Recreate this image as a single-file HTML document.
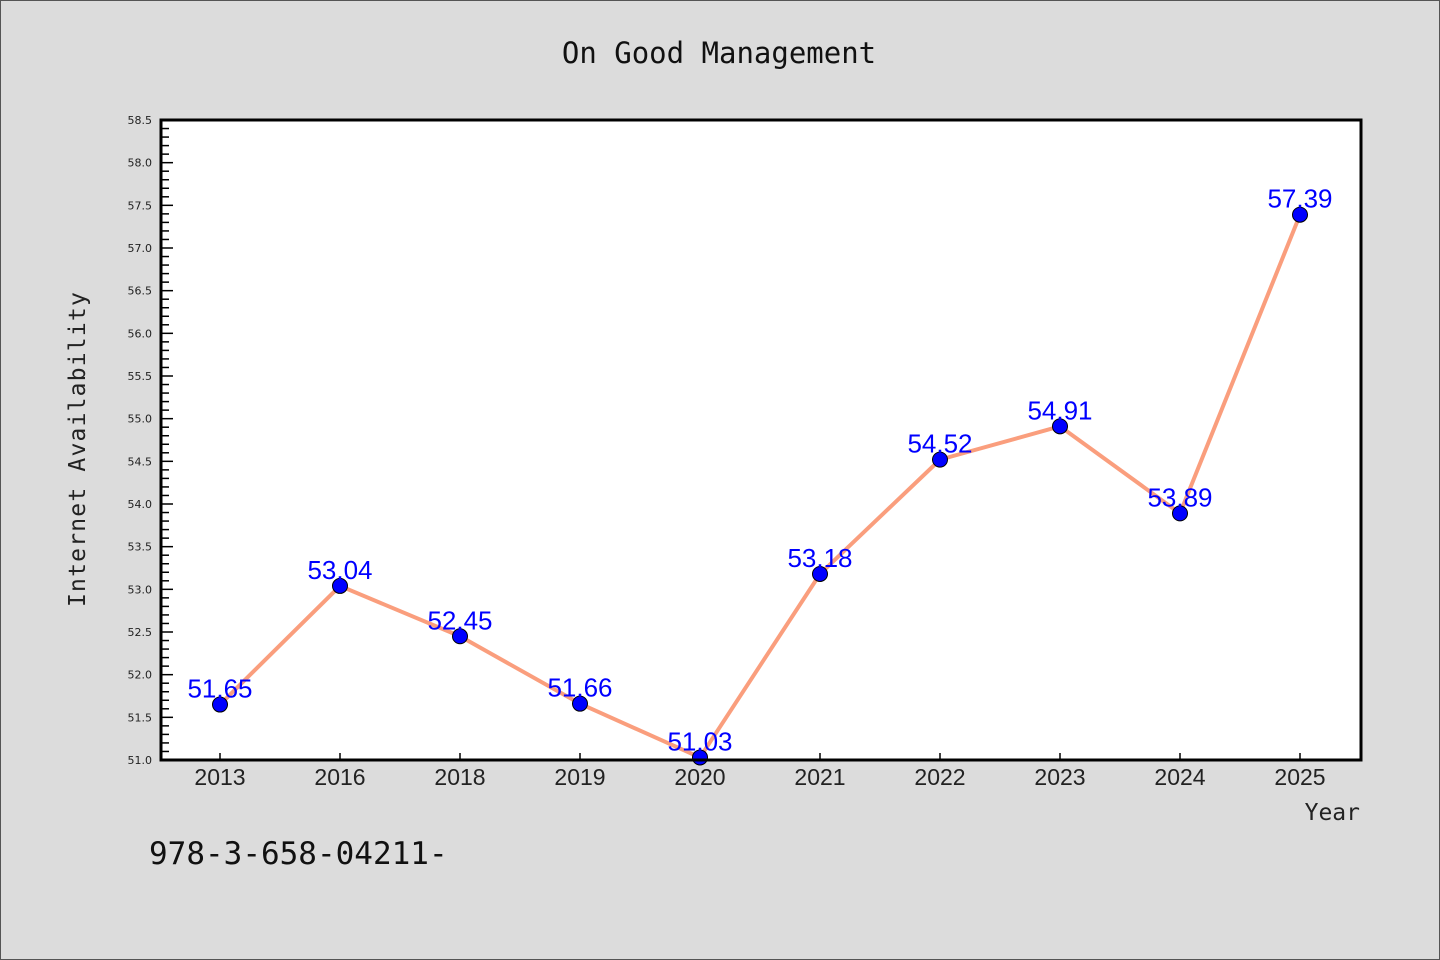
<!DOCTYPE html>
<html><head><meta charset="utf-8">
<style>
html,body{margin:0;padding:0;background:#dcdcdc;}
body{width:1440px;height:960px;overflow:hidden;}
svg{display:block;}
</style></head>
<body>
<svg id="chart" width="1440" height="960" xmlns="http://www.w3.org/2000/svg">
<rect x="0.5" y="0.5" width="1439" height="959" fill="#dcdcdc" stroke="#555" stroke-width="1"/>
<text x="719" y="63" text-anchor="middle" font-family="'DejaVu Sans Mono','Liberation Mono',monospace" font-size="29" fill="#111">On Good Management</text>
<rect x="161" y="120" width="1200" height="640" fill="#fff"/>
<g id="yticks"></g>
<g id="xticks"></g>
<g id="series"></g>
<rect x="161" y="120" width="1200" height="640" fill="none" stroke="#000" stroke-width="3"/>
<text transform="translate(85,449) rotate(-90)" text-anchor="middle" font-family="'DejaVu Sans Mono','Liberation Mono',monospace" font-size="23" letter-spacing="1.2" fill="#222">Internet Availability</text>
<text x="1360" y="820" text-anchor="end" font-family="'DejaVu Sans Mono','Liberation Mono',monospace" font-size="23" fill="#222">Year</text>
<text x="149" y="864" font-family="'DejaVu Sans Mono','Liberation Mono',monospace" font-size="31" fill="#111">978-3-658-04211-</text>
</svg>
<script>
const categories=["2013","2016","2018","2019","2020","2021","2022","2023","2024","2025"];
const values=[51.65,53.04,52.45,51.66,51.03,53.18,54.52,54.91,53.89,57.39];
const valueLabels=["51.65","53.04","52.45","51.66","51.03","53.18","54.52","54.91","53.89","57.39"];
const yTickLabels=["51.0","51.5","52.0","52.5","53.0","53.5","54.0","54.5","55.0","55.5","56.0","56.5","57.0","57.5","58.0","58.5"];
const NS="http://www.w3.org/2000/svg";
const yMin=51.0,yMax=58.5,plotTop=120,plotBottom=760,plotLeft=161;
function yScale(v){return plotBottom-(v-yMin)/(yMax-yMin)*(plotBottom-plotTop);}
function xScale(i){return 220+i*120;}
function mk(tag,attrs,parent){const e=document.createElementNS(NS,tag);for(const k in attrs)e.setAttribute(k,attrs[k]);parent.appendChild(e);return e;}
const yt=document.getElementById('yticks');
for(let k=0;k<=75;k++){
  const v=yMin+k*0.1,y=yScale(v),major=k%5===0;
  const t=mk('line',{x1:plotLeft,x2:plotLeft+(major?12:8),y1:y,y2:y,stroke:'#000','stroke-width':1.5},yt);
  
  
}
yTickLabels.forEach(s=>{
  const tx=mk('text',{x:152,y:yScale(parseFloat(s))+4,'text-anchor':'end','font-family':"'DejaVu Sans','Liberation Sans',sans-serif",'font-size':11,fill:'#222'},yt);
  tx.textContent=s;
  
  
});
const xt=document.getElementById('xticks');
categories.forEach((c,i)=>{
  const x=xScale(i);
  const t=mk('line',{x1:x,x2:x,y1:plotBottom,y2:plotBottom-7,stroke:'#000','stroke-width':1.5},xt);
  
  
  const tx=mk('text',{x:x,y:785,'text-anchor':'middle','font-family':"'Liberation Sans',sans-serif",'font-size':23,fill:'#222'},xt);
  tx.textContent=c;
  
  
});
const sg=document.getElementById('series');
const pts=values.map((v,i)=>xScale(i)+','+yScale(v)).join(' ');
const pl=mk('polyline',{points:pts,fill:'none',stroke:'#fa9e7d','stroke-width':4,'stroke-linejoin':'round'},sg);


values.forEach((v,i)=>{
  const c=mk('circle',{cx:xScale(i),cy:yScale(v),r:7.5,fill:'#0000ff',stroke:'#000','stroke-width':1},sg);
  
  
});
values.forEach((v,i)=>{
  const tx=mk('text',{x:xScale(i),y:yScale(v)-7,'text-anchor':'middle','font-family':"'Liberation Sans',sans-serif",'font-size':26,fill:'#0000ff'},sg);
  tx.textContent=valueLabels[i];
  
  
});
</script>
</body></html>
